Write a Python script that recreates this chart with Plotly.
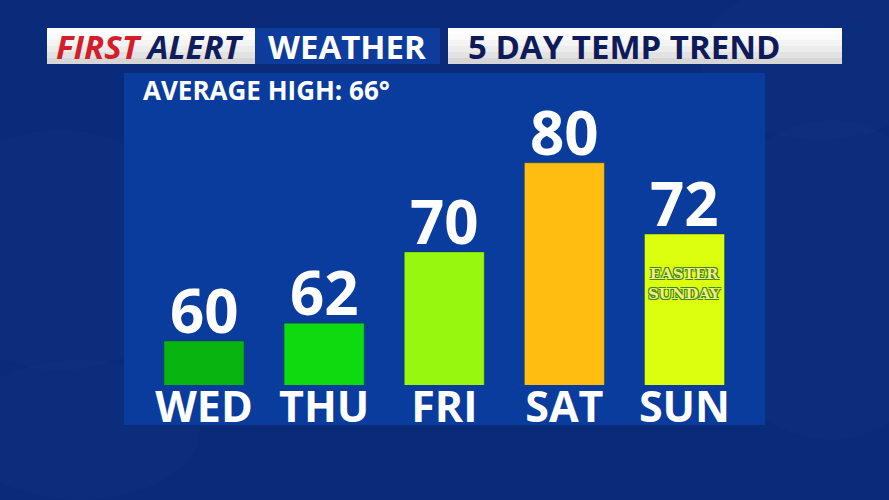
import plotly.graph_objects as go

days = ["WED", "THU", "FRI", "SAT", "SUN"]
highs = [60, 62, 70, 80, 72]
bar_colors = ["#08b40f", "#0ddb10", "#98f70f", "#ffbd12", "#dcff10"]
avg_high = 66
title_left_red = "FIRST"
title_left_navy = "ALERT"
title_mid = "WEATHER"
title_right = "5 DAY TEMP TREND"
note_text = "EASTER<br>SUNDAY"

W, H = 889, 500
L, R, T, B = 124, 765, 72, 385  # plot area in pixels


def px(x):
    return (x - L) / (R - L)


def py(y):
    return (B - y) / (B - T)


FONT = "Open Sans"

fig = go.Figure()
fig.add_trace(go.Bar(
    x=days, y=highs,
    marker=dict(color=bar_colors, line=dict(color="rgba(0,60,0,0.35)", width=1)),
    width=0.666,
    hoverinfo="x+y",
))

shapes = []
# soft background cloud-ish blotches
for (cx, cy, rx, ry, op) in [(60, 250, 140, 120, 0.05), (830, 280, 130, 160, 0.05),
                             (820, 60, 120, 80, 0.04), (80, 430, 120, 70, 0.04)]:
    shapes.append(dict(type="circle", xref="paper", yref="paper",
                       x0=px(cx - rx), x1=px(cx + rx), y0=py(cy + ry), y1=py(cy - ry),
                       fillcolor="#3a63b8", opacity=op, line=dict(width=0), layer="below"))
# main panel
shapes.append(dict(type="rect", xref="paper", yref="paper",
                   x0=px(124), x1=px(765), y0=py(425), y1=py(73),
                   fillcolor="#0a3c9e", line=dict(width=0), layer="below"))


def header_box(x0, x1, y0, y1, bands):
    n = len(bands)
    h = (y1 - y0) / n
    for i, c in enumerate(bands):
        shapes.append(dict(type="rect", xref="paper", yref="paper",
                           x0=px(x0), x1=px(x1), y0=py(y0 + h * (i + 1)), y1=py(y0 + h * i),
                           fillcolor=c, line=dict(width=0), layer="below"))


white_bands = ["#ffffff", "#fbfbfb", "#f4f4f4", "#ececec", "#e2e2e2", "#d6d6d6"]
header_box(47, 255, 28, 64, white_bands)
header_box(255, 440, 28, 64, ["#0d3c9c"])
header_box(448, 842, 28, 64, white_bands)

annotations = [
    dict(xref="paper", yref="paper", x=px(54), y=py(46), xanchor="left", yanchor="middle",
         text=f"<i><span style='color:#d21f2b'>{title_left_red}</span> <span style='color:#101d5c'>{title_left_navy}</span></i>",
         showarrow=False, font=dict(family=FONT, size=33, weight="bold")),
    dict(xref="paper", yref="paper", x=px(347), y=py(46), xanchor="center", yanchor="middle",
         text=title_mid, showarrow=False, font=dict(family=FONT, size=33, color="white", weight="bold")),
    dict(xref="paper", yref="paper", x=px(466), y=py(46), xanchor="left", yanchor="middle",
         text=title_right, showarrow=False, font=dict(family=FONT, size=33, color="#0f1a5a", weight="bold")),
    dict(xref="paper", yref="paper", x=px(141), y=py(90), xanchor="left", yanchor="middle",
         text=f"AVERAGE HIGH: {avg_high}°", showarrow=False,
         font=dict(family=FONT, size=26, color="white", weight="bold")),
    dict(x=days[4], y=highs[4], xref="x", yref="y", yshift=-50, yanchor="middle",
         text=note_text, showarrow=False,
         font=dict(family="DejaVu Serif", size=15, color="#f6eb86", weight="bold",
                   shadow="-1px -1px 0 #3d8a16, 1px -1px 0 #3d8a16, -1px 1px 0 #3d8a16, 1px 1px 0 #3d8a16"),
         ),
]
for d, v in zip(days, highs):
    annotations.append(dict(x=d, y=v, xref="x", yref="y", yanchor="bottom", yshift=-12,
                            text=str(v), showarrow=False,
                            font=dict(family=FONT, size=60, color="white", weight="bold")))

fig.update_layout(
    width=W, height=H,
    margin=dict(l=L, r=W - R, t=T, b=H - B, pad=0),
    paper_bgcolor="#0a2b7a",
    plot_bgcolor="rgba(0,0,0,0)",
    showlegend=False,
    shapes=shapes,
    annotations=annotations,
    xaxis=dict(range=[-0.666, 4.67], showgrid=False, zeroline=False, showline=False,
               ticks="", ticklabelstandoff=-7,
               tickfont=dict(family=FONT, size=43, color="white", weight="bold"),
               fixedrange=True),
    yaxis=dict(range=[55.06, 90.2], showgrid=False, zeroline=False, showline=False,
               showticklabels=False, ticks="", fixedrange=True),
    bargap=0.33,
)

fig.write_html("out.html", config={"displayModeBar": False},
               post_script="document.body.style.margin='0';document.body.style.background='#0a2b7a';")
